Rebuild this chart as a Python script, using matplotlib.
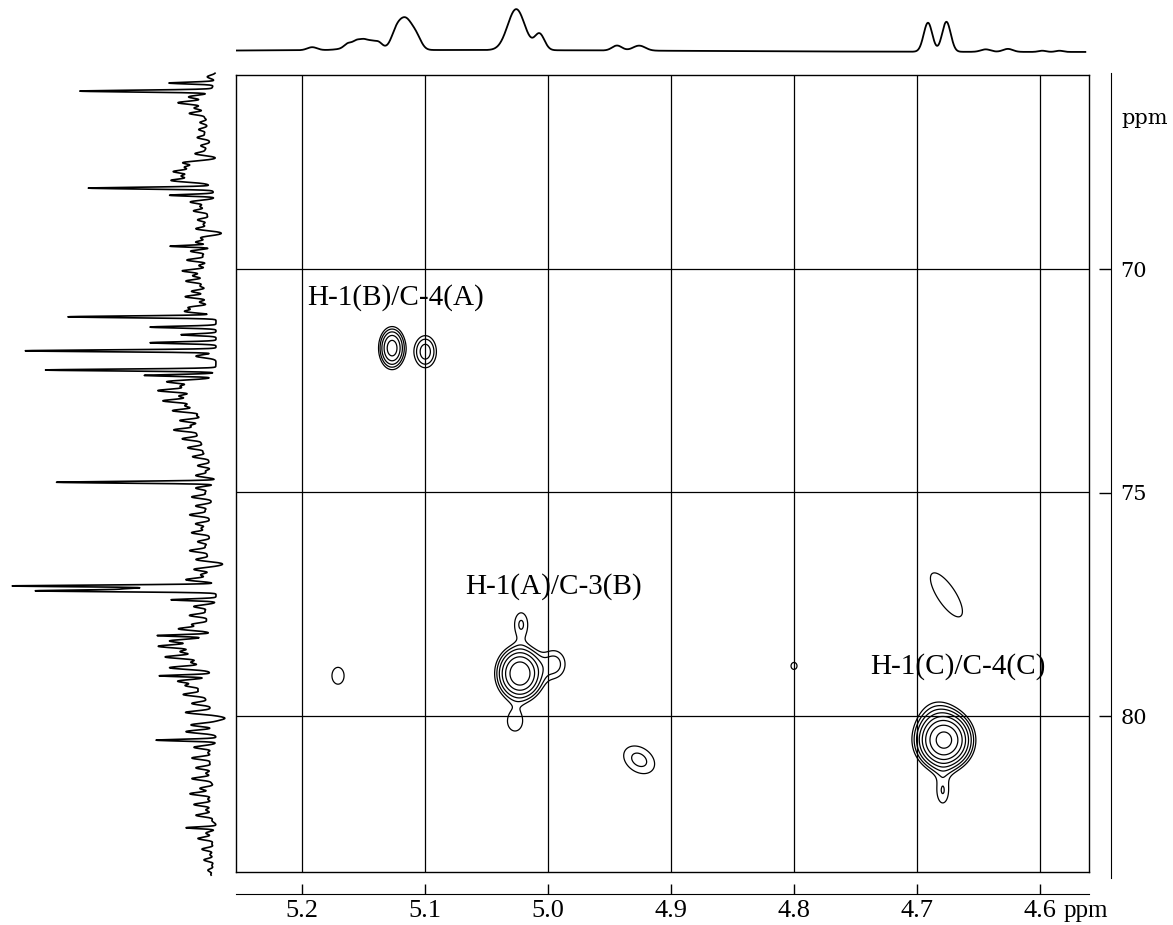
import numpy as np
import matplotlib
matplotlib.use('Agg')
from matplotlib import pyplot as plt

# axis ticks (ppm)
h_ticks = [5.2, 5.1, 5.0, 4.9, 4.8, 4.7, 4.6]
c_ticks = [70, 75, 80]
h_range = (5.254, 4.56)
c_range = (83.49, 65.66)

# 1H projection (top): position, height, gaussian width
h_ppm = [5.192, 5.163, 5.156, 5.150, 5.144, 5.138, 5.150, 5.124, 5.116, 5.107,
         5.026, 5.007, 4.944, 4.926, 4.691, 4.676, 4.644, 4.626, 4.598, 4.584]
h_height = [3, 4, 5, 5, 4, 5, 5, 13, 30, 10, 41, 16, 5, 5, 29, 30, 2.5, 3, 1.2, 1.2]
h_width = [0.004, 0.003, 0.003, 0.003, 0.003, 0.003, 0.012, 0.004, 0.0055, 0.004,
           0.007, 0.004, 0.004, 0.005, 0.0035, 0.0035, 0.004, 0.004, 0.003, 0.003]
h_hump = (5.10, 2.0, 0.20)

# 13C projection (left): main lines
c_ppm = [65.84, 66.02, 68.19, 68.35, 69.49, 71.07, 71.30, 71.47, 71.65, 71.83,
         72.26, 72.38, 74.77, 77.09, 77.15, 77.20, 77.40, 78.20, 79.10, 80.54, 82.50]
c_height = [45, 131, 123, 45, 45, 148, 66, 35, 66, 191,
            170, 70, 160, 203, 80, 177, 45, 51, 50, 60, 30]
# 13C projection: baseline noise and slow drift
c_noise_ppm = [65.70, 66.15, 66.28, 66.40, 66.52, 66.62, 66.72, 66.80, 66.88, 66.97,
               67.06, 67.15, 67.24, 67.33, 67.42, 67.52, 67.62, 67.72, 67.82, 67.92,
               68.02, 68.50, 68.60, 68.70, 68.80, 68.90, 69.00, 69.10, 69.20, 69.30,
               69.40, 69.60, 69.70, 69.80, 69.92, 70.04, 70.15, 70.27, 70.38, 70.50,
               70.62, 70.74, 70.86, 70.95, 71.95, 72.52, 72.62, 72.72, 72.84, 72.95,
               73.06, 73.17, 73.28, 73.39, 73.50, 73.60, 73.70, 73.80, 73.90, 74.00,
               74.10, 74.20, 74.30, 74.40, 74.52, 74.62, 74.90, 75.00, 75.10, 75.20,
               75.30, 75.40, 75.50, 75.60, 75.70, 75.80, 75.90, 76.00, 76.10, 76.20,
               76.30, 76.40, 76.50, 76.60, 76.72, 76.84, 76.95, 77.55, 77.65, 77.75,
               77.85, 77.95, 78.05, 78.32, 78.44, 78.56, 78.68, 78.80, 78.92, 79.22,
               79.32, 79.42, 79.52, 79.62, 79.72, 79.82, 79.92, 80.05, 80.20, 80.35,
               80.70, 80.82, 80.94, 81.05, 81.16, 81.28, 81.40, 81.50, 81.62, 81.74,
               81.86, 81.98, 82.10, 82.22, 82.34, 82.62, 82.74, 82.86, 82.98, 83.10,
               83.22, 83.34, 83.45, 83.55]
c_noise_height = [8, 20, 30, 15, 22, 8, 14, 6, 16, 10,
                  18, 5, 14, 8, 18, -5, 25, 20, 30, 22,
                  35, 25, 15, 22, 8, 18, 12, 20, -6, 15,
                  20, 25, 12, 28, 15, 30, 18, 24, 10, 20,
                  28, 15, 26, 30, 20, 44, 26, 46, 22, 38,
                  18, 34, 12, 30, 18, 34, 10, 26, 8, 24,
                  10, 22, 6, 18, 10, 20, 20, 10, 24, 4,
                  20, 10, 26, 6, 20, 14, 24, 6, 18, 10,
                  26, 8, 20, -7, 22, 15, 30, 22, 10, 26,
                  8, 22, 34, 34, 42, 20, 38, 16, 40, 30,
                  22, 10, 27, 6, 22, 4, 30, -9, 25, 30,
                  22, 8, 24, 6, 20, 10, 24, 4, 16, 26,
                  8, 22, 10, 20, 4, 10, 18, 4, 14, 6,
                  12, 4, 8, 5]
c_drift_ppm = [66.25, 67.85, 70.30, 72.90, 73.70, 78.50, 79.30]
c_drift_height = [8, 12, 6, 15, 8, 16, 8]

# HMBC cross peaks: 1H, 13C, amplitude, width 1H, width 13C, tilt
cp_h = [5.127, 5.100, 5.023, 4.995, 5.022, 5.027, 4.926, 5.171, 4.800,
        4.676, 4.678, 4.679, 4.679, 4.684]
cp_c = [71.77, 71.85, 79.05, 78.84, 77.95, 80.12, 80.98, 79.10, 78.88,
        77.29, 80.54, 81.15, 81.72, 79.95]
cp_amp = [6.5, 2.8, 11.0, 1.8, 1.58, 1.45, 1.7, 1.3, 1.1,
          1.35, 20.0, 0.6, 1.35, 1.0]
cp_wh = [0.0057, 0.0063, 0.0094, 0.008, 0.0055, 0.007, 0.0122, 0.0068, 0.0056,
         0.0168, 0.0106, 0.007, 0.0049, 0.011]
cp_wc = [0.249, 0.25, 0.30, 0.27, 0.27, 0.25, 0.30, 0.26, 0.18,
         0.635, 0.30, 0.35, 0.27, 0.30]
cp_rho = [0, 0, 0, 0, 0, 0, -0.3, 0, 0,
          -0.75, 0, 0, 0, 0]
levels = [1, 1.5, 2.25, 3.4, 5.1, 7.6, 11.4, 17, 25.6]

labels = ['H-1(B)/C-4(A)', 'H-1(A)/C-3(B)', 'H-1(C)/C-4(C)']
label_h = [5.124, 4.996, 4.667]
label_c = [70.63, 77.11, 78.90]

W, H = 1173, 925
SERIF = 'Liberation Serif'


def box(x0, y0, x1, y1):
    return [x0 / W, 1 - y1 / H, (x1 - x0) / W, (y1 - y0) / H]


def gauss(x, p, h, w):
    return h * np.exp(-0.5 * ((x - p) / w) ** 2)


fig = plt.figure(figsize=(W / 100, H / 100), dpi=100)

# main 2D panel
ax = fig.add_axes(box(236, 75, 1089, 872))
xg = np.linspace(h_range[0], h_range[1], 1000)
yg = np.linspace(c_range[1], c_range[0], 1000)
X, Y = np.meshgrid(xg, yg)
Z = np.zeros_like(X)
for h0, c0, a, wh, wc, r in zip(cp_h, cp_c, cp_amp, cp_wh, cp_wc, cp_rho):
    u = (X - h0) / wh
    v = (Y - c0) / wc
    Z += a * np.exp(-(u * u - 2 * r * u * v + v * v) / (2 * (1 - r * r)))
ax.contour(X, Y, Z, levels=levels, colors='black', linewidths=0.9)
ax.set_xlim(*h_range)
ax.set_ylim(*c_range)
ax.set_xticks(h_ticks)
ax.set_yticks(c_ticks)
ax.grid(True, color='black', linewidth=0.9)
ax.tick_params(length=0, labelbottom=False, labelleft=False)
for s in ax.spines.values():
    s.set_linewidth(1.0)
for t, x, y in zip(labels, label_h, label_c):
    ax.text(x, y, t, ha='center', va='center', fontsize=21, family=SERIF)

# detached 1H axis
axb = fig.add_axes(box(236, 893, 1089, 893.5))
axb.set_xlim(*h_range)
axb.set_xticks(h_ticks)
axb.set_xticklabels([f'{t:.1f}' for t in h_ticks], family=SERIF)
axb.set_yticks([])
axb.patch.set_visible(False)
for k in ['top', 'left', 'right']:
    axb.spines[k].set_visible(False)
axb.tick_params(axis='x', direction='in', length=7, width=1, labelsize=19, pad=5)
fig.text(1086 / W, 1 - 911 / H, 'ppm', ha='center', va='center', fontsize=18, family=SERIF)

# detached 13C axis
axr = fig.add_axes(box(1110, 73, 1110.5, 878))
axr.set_ylim(83.62, 65.615)
axr.set_yticks(c_ticks)
axr.set_xticks([])
axr.patch.set_visible(False)
for k in ['top', 'left', 'bottom']:
    axr.spines[k].set_visible(False)
axr.tick_params(axis='y', direction='in', length=9, width=1, left=False, right=True,
                labelleft=False, labelright=True, labelsize=15, pad=7)
for lab in axr.get_yticklabels():
    lab.set_family('DejaVu Serif')
fig.text(1121 / W, 1 - 118 / H, 'ppm', ha='left', va='center', fontsize=15, family='DejaVu Serif')

# 1H projection
axt = fig.add_axes(box(236, 0, 1089, 60))
hx = np.linspace(h_range[0], 4.563, 3000)
hy = gauss(hx, *h_hump)
for p, h, w in zip(h_ppm, h_height, h_width):
    hy += gauss(hx, p, h, w)
axt.plot(hx, hy, color='black', lw=1.3)
axt.set_xlim(*h_range)
axt.set_ylim(-8, 52)
axt.axis('off')

# 13C projection
axl = fig.add_axes(box(0, 75, 225, 872))
cy = np.linspace(65.62, 83.56, 4000)
cx = np.zeros_like(cy)
for p, h in zip(c_ppm, c_height):
    cx += gauss(cy, p, h, 0.02)
for p, h in zip(c_noise_ppm, c_noise_height):
    cx += gauss(cy, p, h, 0.036)
for p, h in zip(c_drift_ppm, c_drift_height):
    cx += gauss(cy, p, h, 0.25)
axl.plot(cx, cy, color='black', lw=1.2, clip_on=False)
axl.set_xlim(216, -9)
axl.set_ylim(*c_range)
axl.axis('off')

fig.savefig('out.png', dpi=100)
